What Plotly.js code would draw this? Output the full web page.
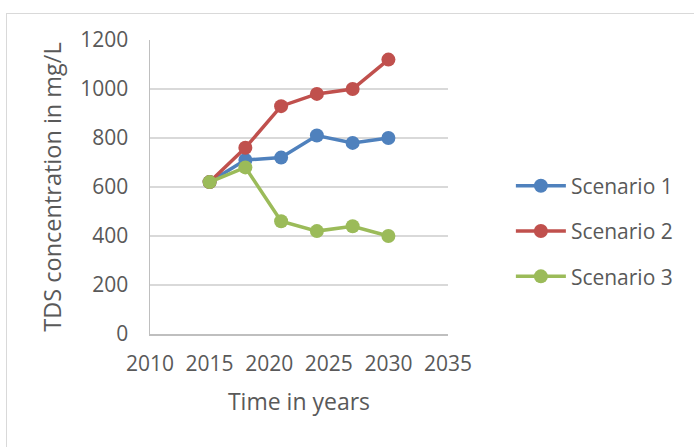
<!DOCTYPE html>
<html>
<head>
<meta charset="utf-8">
<script src="https://cdn.plot.ly/plotly-3.0.1.min.js"></script>
<style>
  html, body { margin: 0; padding: 0; background: #ffffff; }
  #chart { width: 694px; height: 447px; position: absolute; left: 0; top: 0; }
  #frame { position: absolute; left: 6px; top: 13px; width: 700px; height: 450px;
           border: 1px solid #d9d9d9; box-sizing: border-box; pointer-events: none; }
</style>
</head>
<body>
<div id="chart"></div>
<div id="frame"></div>
<script>
// Years of each model run
const years = [2015, 2018, 2021, 2024, 2027, 2030];

// TDS concentration (mg/L) for each scenario
const scenario1 = [620, 710, 720, 810, 780, 800];
const scenario2 = [620, 760, 930, 980, 1000, 1120];
const scenario3 = [620, 680, 460, 420, 440, 400];

const seriesNames = ['Scenario 1', 'Scenario 2', 'Scenario 3'];
const seriesColors = ['#4f81bd', '#c0504d', '#9bbb59'];
const seriesValues = [scenario1, scenario2, scenario3];

const xTicks = [2010, 2015, 2020, 2025, 2030, 2035];
const yTicks = [0, 200, 400, 600, 800, 1000, 1200];

const font = '"Open Sans", "Noto Sans", sans-serif';

const traces = seriesValues.map((vals, i) => ({
  type: 'scatter',
  mode: 'lines+markers',
  x: years,
  y: vals,
  name: seriesNames[i],
  legendgroup: 'g' + i,
  line: { color: seriesColors[i], width: 3.5 },
  marker: { color: seriesColors[i], size: 14 }
}));

const layout = {
  width: 694,
  height: 447,
  margin: { l: 150, r: 246, t: 40, b: 113 },
  paper_bgcolor: '#ffffff',
  plot_bgcolor: '#ffffff',
  font: { family: font, color: '#595959', size: 20 },
  showlegend: true,
  legend: {
    x: 1.211, xanchor: 'left',
    y: 0.35, yanchor: 'middle',
    font: { family: font, size: 21, color: '#595959' },
    tracegroupgap: 15,
    itemwidth: 50
  },
  xaxis: {
    range: [2010, 2035],
    tickvals: xTicks,
    ticktext: xTicks.map(String),
    showgrid: false,
    zeroline: false,
    showline: true,
    linecolor: '#bfbfbf',
    linewidth: 1.5,
    ticks: '',
    ticklabelstandoff: 10,
    tickfont: { family: font, size: 21, color: '#595959' },
    title: { text: 'Time in years', font: { family: font, size: 23, color: '#595959' }, standoff: 18 }
  },
  yaxis: {
    range: [0, 1200],
    tickvals: yTicks,
    ticktext: yTicks.map(String),
    showgrid: true,
    gridcolor: '#d9d9d9',
    gridwidth: 1.5,
    zeroline: false,
    showline: true,
    linecolor: '#bfbfbf',
    linewidth: 1.5,
    ticks: '',
    ticklabelstandoff: 16,
    tickfont: { family: font, size: 21, color: '#595959' },
    title: { text: 'TDS concentration in mg/L', font: { family: font, size: 23.5, color: '#595959' }, standoff: 12 }
  }
};

Plotly.newPlot('chart', traces, layout, { displayModeBar: false, staticPlot: true });
</script>
</body>
</html>
